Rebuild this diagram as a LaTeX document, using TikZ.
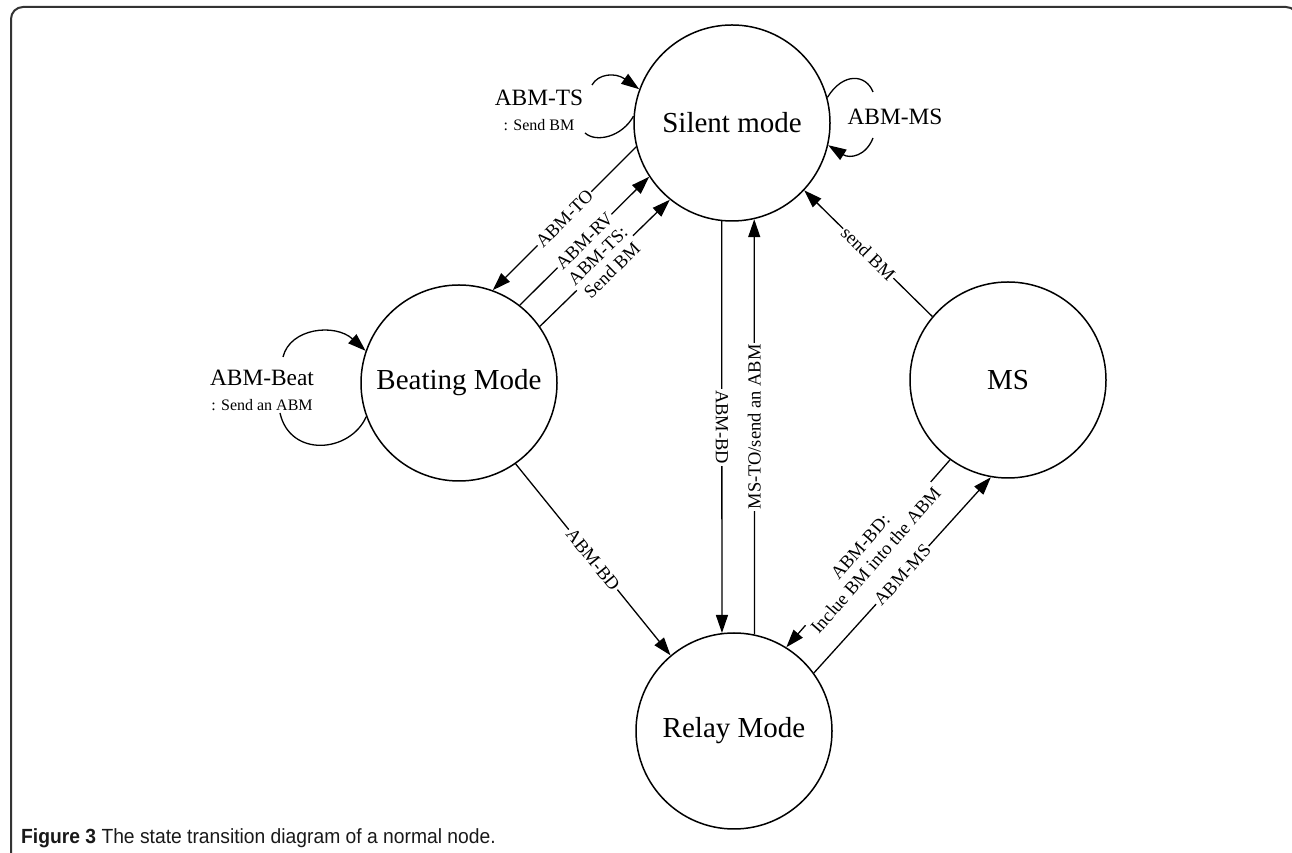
\documentclass[tikz,border=0pt]{standalone}
\usepackage{fontspec}
\setmainfont{Liberation Serif}
\newfontfamily\capfont{Liberation Sans}
\usetikzlibrary{arrows.meta}
\begin{document}
\begin{tikzpicture}[x=1pt,y=1pt,
  state/.style={draw, circle, line width=1.5pt, minimum size=196pt, inner sep=0pt, font=\fontsize{29}{34}\selectfont},
  conn/.style={line width=1.3pt},
  arr/.style={line width=1.3pt, -{Triangle[length=18pt,width=12pt]}},
  elabel/.style={fill=white, inner sep=1.5pt, font=\fontsize{18.5}{20.5}\selectfont, align=center},
  looplabel/.style={inner sep=1pt, font=\fontsize{16}{25}\selectfont, align=center},
]
\useasboundingbox (0,0) rectangle (1292,853);
\begin{scope}
  \clip (0,0) rectangle (1292,853);
  \draw[line width=2pt, black!80, rounded corners=12pt] (11,-20) -- (11,846) -- (1298,846) -- (1298,-20);
\end{scope}

% states
\node[state] (S) at (732,730) {Silent mode};
\node[state] (B) at (459,470) {Beating Mode};
\node[state] (R) at (734,122) {Relay Mode};
\node[state] (M) at (1008,473) {MS};

% transitions between Silent and Beating
\draw[arr] (S.194) -- node[elabel, sloped] {ABM-TO} (B.70);
\draw[arr] (B.52) -- node[elabel, sloped] {ABM-RV} (S.213);
\draw[arr] (B.35) -- node[elabel, sloped] {ABM-TS:\\Send BM} (S.231);

% Silent <-> Relay
\draw[arr] (S.264) -- node[elabel, rotate=-90] {ABM-BD} (R.97);
\draw[arr] (R.78) -- node[elabel, rotate=90] {MS-TO/send an ABM} (S.283);

% MS transitions
\draw[arr] (M.140) -- node[elabel, sloped] {send BM} (S.-43);
\draw[arr] (M.234) -- node[elabel, sloped] {ABM-BD:\\Inclue BM into the ABM} (R.58);
\draw[arr] (R.36) -- node[elabel, sloped] {ABM-MS} (M.260);

% Beating -> Relay
\draw[arr] (B.-55) -- node[elabel, sloped] {ABM-BD} (R.130);

% self loop ABM-TS on Silent
\node[looplabel] (lTS) at (539,743) {{\fontsize{23.4}{25}\selectfont ABM-TS}\\: Send BM};
\coordinate (tsA) at (585,720);
\coordinate (tsB) at (592,768);
\draw[conn] (S.176) .. controls (622,716) and (596,710) .. (tsA);
\draw[arr] (tsB) .. controls (598,779) and (615,781) .. (S.160);

% self loop ABM-MS on Silent
\node[looplabel, font=\fontsize{23.4}{28}\selectfont] (lMS) at (895,736) {ABM-MS};
\coordinate (msA) at (873,761);
\coordinate (msB) at (873,715);
\draw[conn] (S.15) .. controls (843,781) and (866,779) .. (msA);
\draw[arr] (msB) .. controls (866,697) and (850,694) .. (S.-13);

% self loop ABM-Beat on Beating
\node[looplabel] (lBt) at (262,463) {{\fontsize{23.4}{25}\selectfont ABM-Beat}\\: Send an ABM};
\coordinate (btA) at (280,440);
\coordinate (btB) at (283,496);
\draw[conn] (B.200) .. controls (350,400) and (290,395) .. (btA);
\draw[arr] (btB) .. controls (290,525) and (335,530) .. (B.161);

% caption
\node[anchor=west, inner sep=0pt, text=black!90] (cap) at (21,15)
  {\scalebox{0.94}[1]{\capfont\fontsize{20.5}{24}\selectfont\textbf{Figure 3} The state transition diagram of a normal node.}};
\end{tikzpicture}
\end{document}
